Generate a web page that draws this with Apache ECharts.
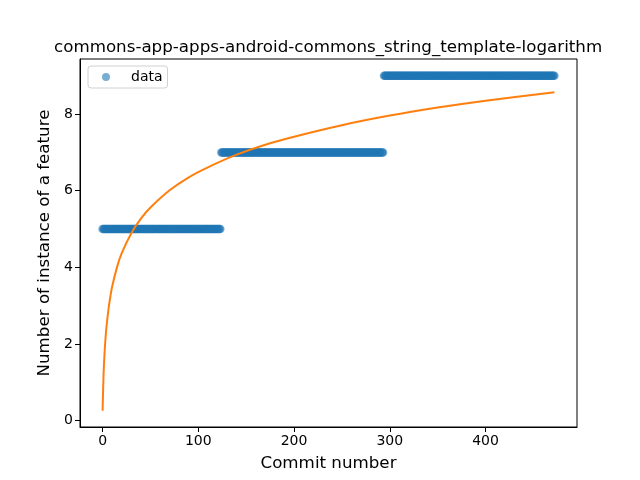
<!DOCTYPE html>
<html>
<head>
<meta charset="utf-8">
<script src="https://cdn.jsdelivr.net/npm/echarts@6/dist/echarts.min.js"></script>
<style>html,body{margin:0;padding:0;background:#fff;}#c{width:640px;height:480px;}</style>
</head>
<body>
<div id="c"></div>
<script>
// Step levels: [first commit, last commit, instances]
var stepSegments = [
  [0, 123, 5],
  [124, 293, 7],
  [294, 472, 9]
];
// Logarithmic fit curve, read at sample commits
var fitX = [0, 1, 2, 3, 4, 6, 8, 10, 15, 20, 30, 40, 50, 70, 90, 110, 140, 170, 200, 250, 300, 350, 400, 472];
var fitY = [0.26, 1.19, 1.74, 2.13, 2.43, 2.88, 3.22, 3.50, 4.00, 4.37, 4.89, 5.27, 5.56, 6.01, 6.35, 6.61, 6.94, 7.20, 7.41, 7.71, 7.96, 8.17, 8.35, 8.57];
var xTicks = [0, 100, 200, 300, 400];
var yTicks = [0, 2, 4, 6, 8];

var scatterData = [];
stepSegments.forEach(function (s) {
  for (var x = s[0]; x <= s[1]; x++) scatterData.push([x, s[2]]);
});
var lineData = fitX.map(function (x, i) { return [x, fitY[i]]; });

var font = 'DejaVu Sans';
var chart = echarts.init(document.getElementById('c'), null, {renderer: 'canvas'});
chart.setOption({
  animation: false,
  backgroundColor: '#fff',
  title: {
    text: 'commons-app-apps-android-commons_string_template-logarithm',
    left: 49, top: 34,
    textStyle: {fontFamily: font, fontSize: 16.7, fontWeight: 'normal', color: '#000'}
  },
  legend: {
    data: [{name: 'data', icon: 'circle'}],
    left: 88, top: 66,
    orient: 'vertical',
    itemWidth: 8, itemHeight: 8,
    padding: [4, 5, 4, 14],
    borderColor: '#d0d0d0', borderWidth: 1, borderRadius: 3,
    backgroundColor: 'rgba(255,255,255,0.8)',
    textStyle: {fontFamily: font, fontSize: 14, color: '#000', padding: [0, 0, 0, 16]}
  },
  grid: {
    left: 80, right: 63, top: 59, bottom: 53,
    show: true, borderColor: '#000', borderWidth: 1, backgroundColor: 'transparent'
  },
  xAxis: {
    type: 'value', min: -23.6, max: 495.6,
    name: 'Commit number', nameLocation: 'middle', nameGap: 28,
    nameTextStyle: {fontFamily: font, fontSize: 16.7, color: '#000'},
    axisLine: {show: true, onZero: false, lineStyle: {color: '#000', width: 1}},
    axisTick: {show: true, inside: false, length: 5, lineStyle: {color: '#000'}, customValues: xTicks},
    axisLabel: {color: '#000', fontFamily: font, fontSize: 14, margin: 7, customValues: xTicks},
    splitLine: {show: false}
  },
  yAxis: {
    type: 'value', min: -0.166, max: 9.437,
    name: 'Number of instance of a feature', nameLocation: 'middle', nameGap: 25,
    nameTextStyle: {fontFamily: font, fontSize: 16.7, color: '#000'},
    axisLine: {show: true, onZero: false, lineStyle: {color: '#000', width: 1}},
    axisTick: {show: true, inside: false, length: 5, lineStyle: {color: '#000'}, customValues: yTicks},
    axisLabel: {color: '#000', fontFamily: font, fontSize: 14, margin: 7, customValues: yTicks},
    splitLine: {show: false}
  },
  series: [
    {
      name: 'data', type: 'scatter', data: scatterData,
      symbol: 'circle', symbolSize: 8.5,
      itemStyle: {color: '#1f77b4', opacity: 0.6},
      z: 2
    },
    {
      name: 'fit', type: 'line', data: lineData,
      showSymbol: false, smooth: 0.3,
      lineStyle: {color: '#ff7f0e', width: 2},
      itemStyle: {color: '#ff7f0e'},
      z: 3
    }
  ]
});
</script>
</body>
</html>
